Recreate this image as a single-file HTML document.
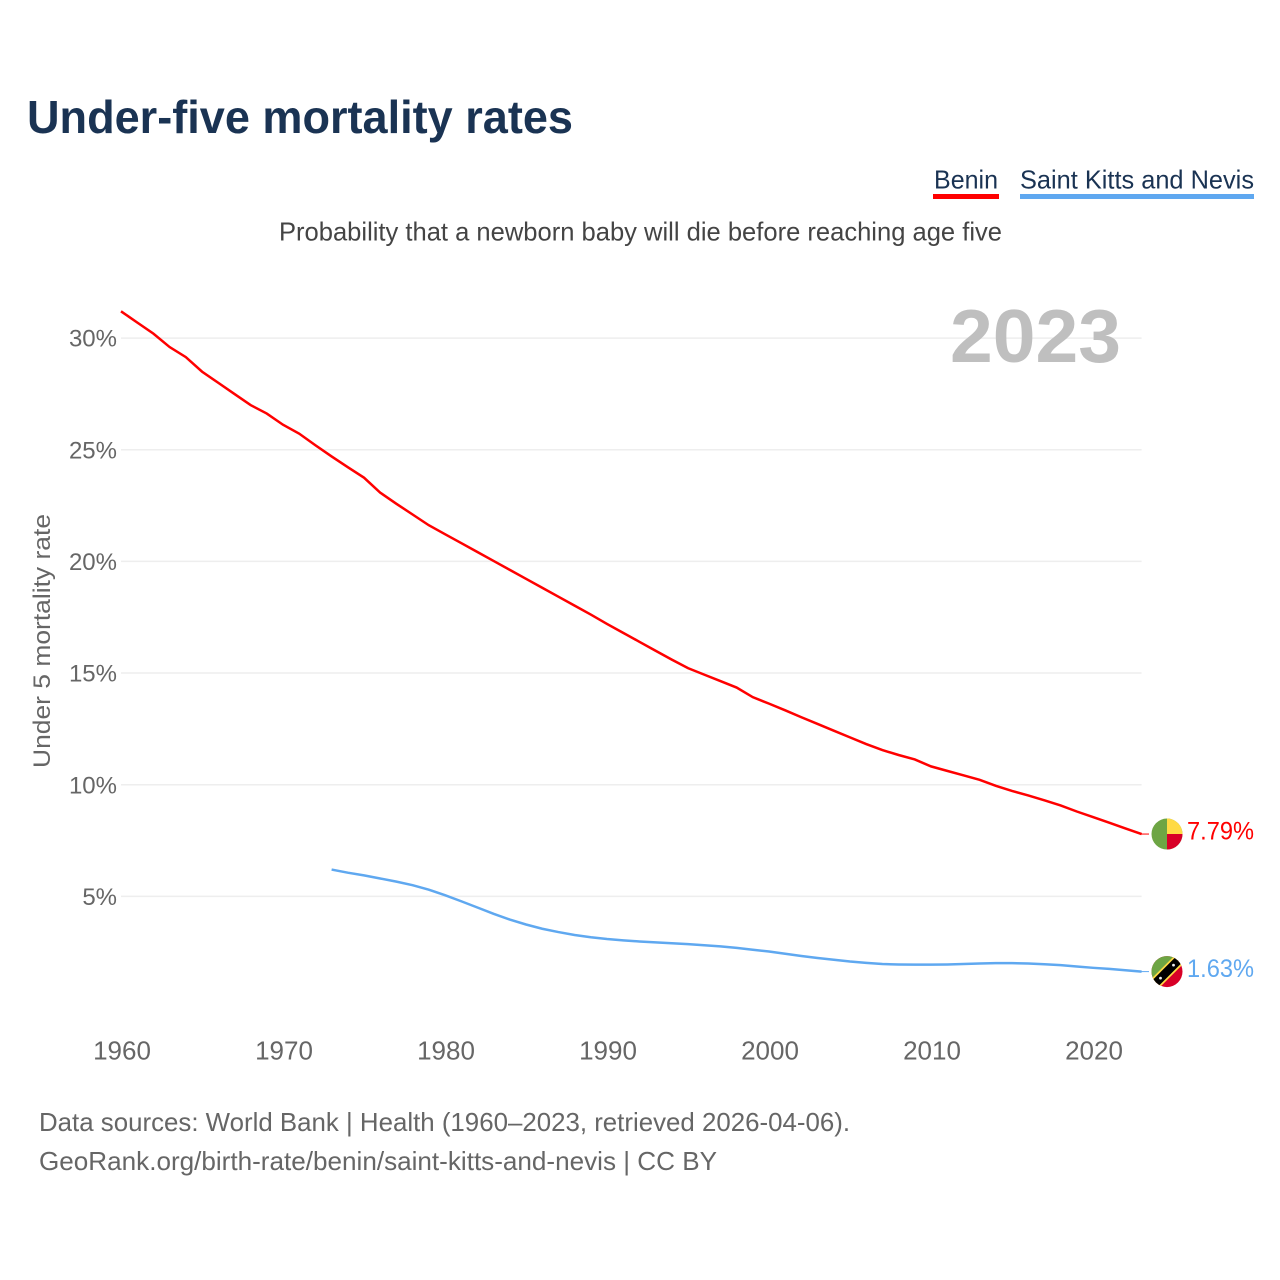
<!DOCTYPE html>
<html lang="en">
<head>
<meta charset="utf-8">
<title>Under-five mortality rates</title>
<style>
html,body{margin:0;padding:0;background:#fff;}
svg{display:block;font-family:"Liberation Sans",sans-serif;}
</style>
</head>
<body>
<svg id="chart" xmlns="http://www.w3.org/2000/svg" width="1280" height="1280" viewBox="0 0 1280 1280">
<rect x="0" y="0" width="1280" height="1280" fill="#fff"/>
<text x="27" y="133" font-size="46" font-weight="700" fill="#1a3353" textLength="546" lengthAdjust="spacingAndGlyphs">Under-five mortality rates</text>
<g>
<text x="934" y="188.5" font-size="26" fill="#1a3353" textLength="64" lengthAdjust="spacingAndGlyphs">Benin</text>
<rect x="933" y="194" width="66" height="5" fill="#ff0000"/>
</g>
<g>
<text x="1020" y="188.5" font-size="26" fill="#1a3353" textLength="234" lengthAdjust="spacingAndGlyphs">Saint Kitts and Nevis</text>
<rect x="1020" y="194" width="234" height="5" fill="#5fa8f0"/>
</g>
<text x="279" y="240.5" font-size="26" fill="#444" textLength="723" lengthAdjust="spacingAndGlyphs">Probability that a newborn baby will die before reaching age five</text>
<g id="grid"></g>
<text x="950" y="362" font-size="75" font-weight="700" fill="#bfbfbf" textLength="171" lengthAdjust="spacingAndGlyphs">2023</text>
<g id="yticks"></g>
<g id="xticks"></g>
<text transform="translate(50,641) rotate(-90)" text-anchor="middle" font-size="24" fill="#666" textLength="254" lengthAdjust="spacingAndGlyphs">Under 5 mortality rate</text>
<g id="series"></g>
<g id="benin-end">
<line x1="-26" y1="0" x2="-18" y2="0" stroke="#ff0000" stroke-width="1"/>
<g>
<circle cx="0" cy="0" r="15.5" fill="#6da544"/>
<path d="M0,0 V-15.5 A15.5,15.5 0 0 1 15.5,0 Z" fill="#ffda44"/>
<path d="M0,0 H15.5 A15.5,15.5 0 0 1 0,15.5 Z" fill="#d80027"/>
</g>
<text id="benin-value" x="20" y="5.6" font-size="25" fill="#ff0000" textLength="67" lengthAdjust="spacingAndGlyphs"></text>
</g>
<g id="kitts-end">
<line x1="-26" y1="0" x2="-18" y2="0" stroke="#5fa8f0" stroke-width="1"/>
<g>
<clipPath id="kitts-clip"><circle cx="0" cy="0" r="15.5"/></clipPath>
<g clip-path="url(#kitts-clip)">
<rect x="-16" y="-16" width="32" height="32" fill="#d80027"/>
<path d="M-16,-16 H16 L-16,16 Z" fill="#6da544"/>
<line x1="-16" y1="16" x2="16" y2="-16" stroke="#ffda44" stroke-width="12"/>
<line x1="-16" y1="16" x2="16" y2="-16" stroke="#000" stroke-width="8.5"/>
<circle cx="-6.5" cy="6.5" r="1.4" fill="#f0f0f0"/>
<circle cx="6.5" cy="-6.5" r="1.4" fill="#f0f0f0"/>
</g>
</g>
<text id="kitts-value" x="20" y="5.6" font-size="25" fill="#5fa8f0" textLength="67" lengthAdjust="spacingAndGlyphs"></text>
</g>
<text x="39" y="1131" font-size="26" fill="#666" textLength="811" lengthAdjust="spacingAndGlyphs">Data sources: World Bank | Health (1960–2023, retrieved 2026-04-06).</text>
<text x="39" y="1170" font-size="26" fill="#666" textLength="678" lengthAdjust="spacingAndGlyphs">GeoRank.org/birth-rate/benin/saint-kitts-and-nevis | CC BY</text>
</svg>
<script>
const beninYears = [1960,1961,1962,1963,1964,1965,1966,1967,1968,1969,1970,1971,1972,1973,1974,1975,1976,1977,1978,1979,1980,1981,1982,1983,1984,1985,1986,1987,1988,1989,1990,1991,1992,1993,1994,1995,1996,1997,1998,1999,2000,2001,2002,2003,2004,2005,2006,2007,2008,2009,2010,2011,2012,2013,2014,2015,2016,2017,2018,2019,2020,2021,2022,2023];
const beninValues = [31.2,30.7,30.2,29.6,29.15,28.5,28.0,27.5,27.0,26.62,26.12,25.72,25.2,24.7,24.22,23.75,23.08,22.58,22.1,21.62,21.22,20.82,20.42,20.02,19.62,19.22,18.82,18.42,18.02,17.62,17.2,16.8,16.4,16.0,15.6,15.22,14.93,14.64,14.35,13.92,13.63,13.33,13.02,12.72,12.42,12.12,11.82,11.55,11.33,11.13,10.82,10.62,10.42,10.22,9.95,9.72,9.52,9.3,9.07,8.8,8.55,8.3,8.04,7.79];
const kittsYears = [1973,1974,1975,1976,1977,1978,1979,1980,1981,1982,1983,1984,1985,1986,1987,1988,1989,1990,1991,1992,1993,1994,1995,1996,1997,1998,1999,2000,2001,2002,2003,2004,2005,2006,2007,2008,2009,2010,2011,2012,2013,2014,2015,2016,2017,2018,2019,2020,2021,2022,2023];
const kittsValues = [6.2,6.06,5.94,5.8,5.66,5.5,5.3,5.05,4.78,4.5,4.22,3.96,3.74,3.55,3.4,3.27,3.17,3.09,3.03,2.98,2.94,2.9,2.86,2.81,2.76,2.69,2.61,2.53,2.43,2.33,2.24,2.16,2.08,2.02,1.97,1.95,1.94,1.94,1.95,1.97,1.99,2.01,2.01,1.99,1.96,1.92,1.86,1.8,1.75,1.69,1.63];
const yTickValues = [5,10,15,20,25,30];
const xTickValues = [1960,1970,1980,1990,2000,2010,2020];

const NS = 'http://www.w3.org/2000/svg';
const xScale = year => 121 + (year - 1960) * 16.2;
const yScale = pct => 1008 - pct * 22.33;
const gridEl = document.getElementById('grid');
const yTicksEl = document.getElementById('yticks');
const xTicksEl = document.getElementById('xticks');
const seriesEl = document.getElementById('series');

yTickValues.forEach(v => {
  const line = document.createElementNS(NS, 'line');
  
  
  line.setAttribute('x1', xScale(1960));
  line.setAttribute('x2', xScale(2023));
  line.setAttribute('y1', yScale(v));
  line.setAttribute('y2', yScale(v));
  line.setAttribute('stroke', '#eeeeee');
  line.setAttribute('stroke-width', '1.5');
  gridEl.appendChild(line);
  const label = document.createElementNS(NS, 'text');
  
  
  label.setAttribute('x', 117);
  label.setAttribute('y', yScale(v) + 8.6);
  label.setAttribute('text-anchor', 'end');
  label.setAttribute('font-size', '24');
  label.setAttribute('fill', '#666');
  label.textContent = v + '%';
  yTicksEl.appendChild(label);
});

xTickValues.forEach(v => {
  const label = document.createElementNS(NS, 'text');
  
  
  label.setAttribute('x', xScale(v) + 1);
  label.setAttribute('y', 1059.5);
  label.setAttribute('text-anchor', 'middle');
  label.setAttribute('font-size', '26');
  label.setAttribute('fill', '#666');
  label.textContent = v;
  xTicksEl.appendChild(label);
});

function linePoints(years, values) {
  return years.map((y, i) => xScale(y).toFixed(2) + ',' + yScale(values[i]).toFixed(2)).join(' ');
}

const kittsLine = document.createElementNS(NS, 'polyline');


kittsLine.setAttribute('points', linePoints(kittsYears, kittsValues));
kittsLine.setAttribute('fill', 'none');
kittsLine.setAttribute('stroke', '#5fa8f0');
kittsLine.setAttribute('stroke-width', '2.5');
seriesEl.appendChild(kittsLine);

const beninLine = document.createElementNS(NS, 'polyline');


beninLine.setAttribute('points', linePoints(beninYears, beninValues));
beninLine.setAttribute('fill', 'none');
beninLine.setAttribute('stroke', '#ff0000');
beninLine.setAttribute('stroke-width', '2.5');
seriesEl.appendChild(beninLine);

function placeEnd(groupId, valueId, years, values) {
  const last = values.length - 1;
  document.getElementById(groupId).setAttribute('transform',
    'translate(' + (xScale(years[last]) + 25.4) + ',' + yScale(values[last]) + ')');
  document.getElementById(valueId).textContent = values[last].toFixed(2) + '%';
}
placeEnd('benin-end', 'benin-value', beninYears, beninValues);
placeEnd('kitts-end', 'kitts-value', kittsYears, kittsValues);
</script>
</body>
</html>
